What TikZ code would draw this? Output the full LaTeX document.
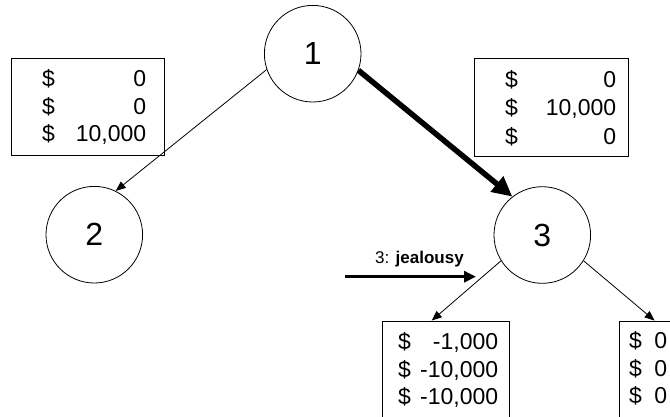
\documentclass[tikz,border=0pt]{standalone}
\usepackage{fontspec}
\setmainfont{Liberation Sans}
\usetikzlibrary{arrows.meta}
\begin{document}
\begin{tikzpicture}[x=1pt,y=-1pt,
  state/.style={draw, circle, line width=0.8pt, minimum size=96.6pt, inner sep=0pt,
                font=\fontsize{32}{36}\selectfont},
  payoff/.style={draw, line width=0.8pt, fill=none, inner sep=0pt},
  amount/.style={anchor=base west, inner sep=0pt, font=\fontsize{23}{27}\selectfont},
  thinedge/.style={line width=0.8pt, -{Triangle[length=10pt,width=8pt]}},
  thickedge/.style={line width=5.5pt, -{Triangle[length=20pt,width=19pt]}},
  move/.style={line width=3.5pt, -{Triangle[length=12pt,width=11pt]}},
  movelabel/.style={anchor=base west, inner sep=0pt, font=\fontsize{17}{20}\selectfont}]
\useasboundingbox (0,0) rectangle (670,416);
\clip (0,0) rectangle (670,416);

% decision nodes
\node[state] (n1) at (312.7,53.7) {1};
\node[state] (n2) at (94.3,234.7) {2};
\node[state] (n3) at (542.3,235) {3};

% payoff boxes
\node[payoff, minimum width=153pt, minimum height=97pt]  (pl)  at (87.5,106.5) {};
\node[payoff, minimum width=154pt, minimum height=98pt]  (pr)  at (551,107) {};
\node[payoff, minimum width=127pt, minimum height=99pt]  (pbl) at (445.5,370.5) {};
\node[payoff, minimum width=127pt, minimum height=99pt]  (pbr) at (682.5,370.5) {};

% amounts, left box
\node[amount] (pl1) at (42,86)  {\makebox[104pt]{\$\hfill 0}};
\node[amount] (pl2) at (42,114) {\makebox[104pt]{\$\hfill 0}};
\node[amount] (pl3) at (42,141) {\makebox[104pt]{\$\hfill 10,000}};

% amounts, right box
\node[amount] (pr1) at (505,87)    {\makebox[111pt]{\$\hfill 0}};
\node[amount] (pr2) at (505,115.5) {\makebox[111pt]{\$\hfill 10,000}};
\node[amount] (pr3) at (505,144)   {\makebox[111pt]{\$\hfill 0}};

% amounts, lower left box
\node[amount] (pbl1) at (398,349) {\makebox[100pt]{\$\hfill -1,000}};
\node[amount] (pbl2) at (398,377) {\makebox[100pt]{\$\hfill -10,000}};
\node[amount] (pbl3) at (398,404) {\makebox[100pt]{\$\hfill -10,000}};

% amounts, lower right box
\node[amount] (pbr1) at (629,348) {\makebox[38pt]{\$\hfill 0}};
\node[amount] (pbr2) at (629,376) {\makebox[38pt]{\$\hfill 0}};
\node[amount] (pbr3) at (629,403) {\makebox[38pt]{\$\hfill 0}};

% branches
\draw[thinedge]  (n1.199) -- (n2.64);
\draw[thickedge] (n1.340) -- (n3.128);
\draw[thinedge]  (n3.212) -- ([xshift=-13.8pt]pbl.north);
\draw[thinedge]  (n3.328.6) -- ([xshift=36pt]pbr.north west);

% chosen move into node 3
\coordinate (ms) at (345,276.7);
\coordinate (me) at (476,276.7);
\draw[move] (ms) -- (me);
\node[movelabel] (ml) at (375,263.3) {3: \textbf{jealousy}};
\end{tikzpicture}
\end{document}
